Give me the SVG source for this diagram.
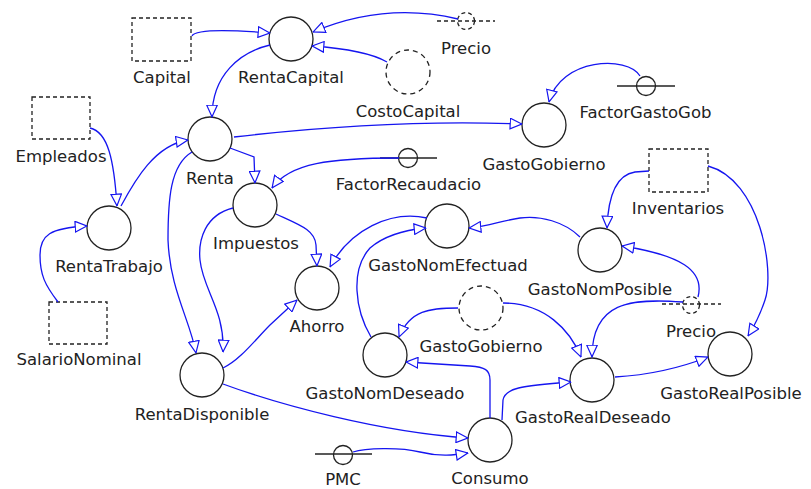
<svg xmlns="http://www.w3.org/2000/svg" width="811" height="489" viewBox="0 0 811 489">
<style>
.lbl{font-family:"DejaVu Sans","Verdana",sans-serif;font-size:16.5px;fill:#222;text-anchor:middle}
.aux{fill:none;stroke:#222;stroke-width:1.3}
.dash{fill:none;stroke:#222;stroke-width:1.3;stroke-dasharray:5 4}
.drect{fill:none;stroke:#222;stroke-width:1.3;stroke-dasharray:4 3}
.lk{fill:none;stroke:#1515f0;stroke-width:1.3;marker-end:url(#ah)}
</style>
<defs>
<marker id="ah" markerUnits="userSpaceOnUse" viewBox="0 0 13 12" markerWidth="13" markerHeight="12" refX="12.5" refY="6" orient="auto">
<path d="M0.7,0.7 L12.3,6 L0.7,11.3 Z" fill="#fff" stroke="#1515f0" stroke-width="1.2"/>
</marker>
</defs>
<rect width="811" height="489" fill="#fff"/>

<g id="nodes">
<g id="Capital"><rect class="drect" x="132" y="18" width="59" height="43"/><text class="lbl" x="162" y="83">Capital</text></g>
<g id="RentaCapital"><circle class="aux" cx="291" cy="39" r="22"/><text class="lbl" x="291" y="83">RentaCapital</text></g>
<g id="PrecioTop"><line class="drect" x1="437" y1="21" x2="495" y2="21"/><circle class="drect" cx="466" cy="21" r="8.5" fill="#fff"/><text class="lbl" x="466" y="54">Precio</text></g>
<g id="CostoCapital"><circle class="dash" cx="408" cy="72" r="22"/><text class="lbl" x="408" y="117">CostoCapital</text></g>
<g id="Empleados"><rect class="drect" x="32" y="97" width="58" height="42"/><text class="lbl" x="61" y="162">Empleados</text></g>
<g id="Renta"><circle class="aux" cx="210" cy="139" r="22"/><text class="lbl" x="210" y="184">Renta</text></g>
<g id="GastoGobierno"><circle class="aux" cx="544" cy="125" r="22"/><text class="lbl" x="544" y="170">GastoGobierno</text></g>
<g id="FactorGastoGob"><line class="aux" x1="617" y1="86" x2="675" y2="86"/><circle class="aux" cx="646" cy="86" r="9.5"/><text class="lbl" x="645.5" y="118">FactorGastoGob</text></g>
<g id="FactorRecaudacio"><line class="aux" x1="380" y1="158" x2="437" y2="158"/><circle class="aux" cx="408" cy="158" r="9.5"/><text class="lbl" x="408.5" y="190">FactorRecaudacio</text></g>
<g id="Impuestos"><circle class="aux" cx="255" cy="205" r="22"/><text class="lbl" x="256" y="249">Impuestos</text></g>
<g id="Inventarios"><rect class="drect" x="649" y="149" width="59" height="43"/><text class="lbl" x="678" y="214">Inventarios</text></g>
<g id="RentaTrabajo"><circle class="aux" cx="109" cy="228" r="22"/><text class="lbl" x="109" y="272">RentaTrabajo</text></g>
<g id="GastoNomEfectuad"><circle class="aux" cx="447" cy="226" r="22"/><text class="lbl" x="448" y="271">GastoNomEfectuad</text></g>
<g id="GastoNomPosible"><circle class="aux" cx="600" cy="250" r="22"/><text class="lbl" x="600" y="295">GastoNomPosible</text></g>
<g id="Ahorro"><circle class="aux" cx="317" cy="288" r="22"/><text class="lbl" x="317" y="332">Ahorro</text></g>
<g id="PrecioLow"><line class="drect" x1="662" y1="304" x2="721" y2="304"/><circle class="drect" cx="691" cy="305" r="8.5" fill="#fff"/><text class="lbl" x="691" y="337">Precio</text></g>
<g id="SalarioNominal"><rect class="drect" x="49" y="302" width="58" height="42"/><text class="lbl" x="79" y="365">SalarioNominal</text></g>
<g id="GastoGobiernoLow"><circle class="dash" cx="481" cy="308" r="22"/><text class="lbl" x="481" y="352">GastoGobierno</text></g>
<g id="GastoNomDeseado"><circle class="aux" cx="385" cy="355" r="22"/><text class="lbl" x="385" y="399">GastoNomDeseado</text></g>
<g id="GastoRealPosible"><circle class="aux" cx="730" cy="354" r="22" fill="#fff"/><text class="lbl" x="731" y="399">GastoRealPosible</text></g>
<g id="RentaDisponible"><circle class="aux" cx="202" cy="375" r="22"/><text class="lbl" x="202" y="420">RentaDisponible</text></g>
<g id="GastoRealDeseado"><circle class="aux" cx="592" cy="380" r="22"/><text class="lbl" x="593" y="423">GastoRealDeseado</text></g>
<g id="PMC"><line class="aux" x1="315" y1="454" x2="372" y2="454"/><circle class="aux" cx="343" cy="455" r="9.5"/><text class="lbl" x="343" y="485">PMC</text></g>
<g id="Consumo"><circle class="aux" cx="490" cy="440" r="22"/><text class="lbl" x="490" y="484">Consumo</text></g>
</g>

<g id="connectors">
<path class="lk" d="M192,36 C195,30 220,29 270,33"/>
<path class="lk" d="M458,19 C420,10 370,8 313,32"/>
<path class="lk" d="M387,62 C370,52 340,48 312,46"/>
<path class="lk" d="M270,45 C240,52 212,75 212,117"/>
<path class="lk" d="M90,128 C108,132 114,160 117,206"/>
<path class="lk" d="M121,206 C135,180 155,145 188,140"/>
<path class="lk" d="M58,302 C45,285 40,275 40,255 C40,235 50,228 87,226"/>
<path class="lk" d="M234,137 C320,127 420,120 522,124"/>
<path class="lk" d="M230,148 L254,157 L255,183"/>
<path class="lk" d="M399,158 C330,158 290,163 272,188"/>
<path class="lk" d="M640,76 C628,55 560,58 549,102"/>
<path class="lk" d="M276,214 C300,225 315,230 316,245 L317,266"/>
<path class="lk" d="M233,208 C205,215 198,240 200,260 C203,290 225,310 223,352"/>
<path class="lk" d="M192,152 C170,165 168,200 168,240 C170,290 190,320 196,353"/>
<path class="lk" d="M223,368 C240,360 255,340 270,325 L297,300"/>
<path class="lk" d="M223,384 C280,405 380,432 468,438"/>
<path class="lk" d="M353,452 C365,448 400,447 420,452 C440,457 455,455 468,453"/>
<path class="lk" d="M490,418 L490,380 C490,370 485,367 470,366 L406,362"/>
<path class="lk" d="M502,420 L503,400 C505,388 520,386 571,382"/>
<path class="lk" d="M458,308 C430,308 410,310 399,337"/>
<path class="lk" d="M503,303 C545,303 570,330 581,357"/>
<path class="lk" d="M683,302 C630,298 592,302 592,357"/>
<path class="lk" d="M698,297 C705,270 680,255 622,246"/>
<path class="lk" d="M649,171 L635,172 C615,175 608,200 607,228"/>
<path class="lk" d="M708,166 C760,180 775,270 765,300 C760,315 755,325 748,336"/>
<path class="lk" d="M580,237 C565,222 540,215 520,218 C500,221 490,226 469,228"/>
<path class="lk" d="M427,218 C390,210 350,230 330,267"/>
<path class="lk" d="M371,337 C355,310 350,270 370,248 C385,235 405,230 426,228"/>
<path class="lk" d="M615,377 C650,375 680,368 708,357"/>
</g>
</svg>
